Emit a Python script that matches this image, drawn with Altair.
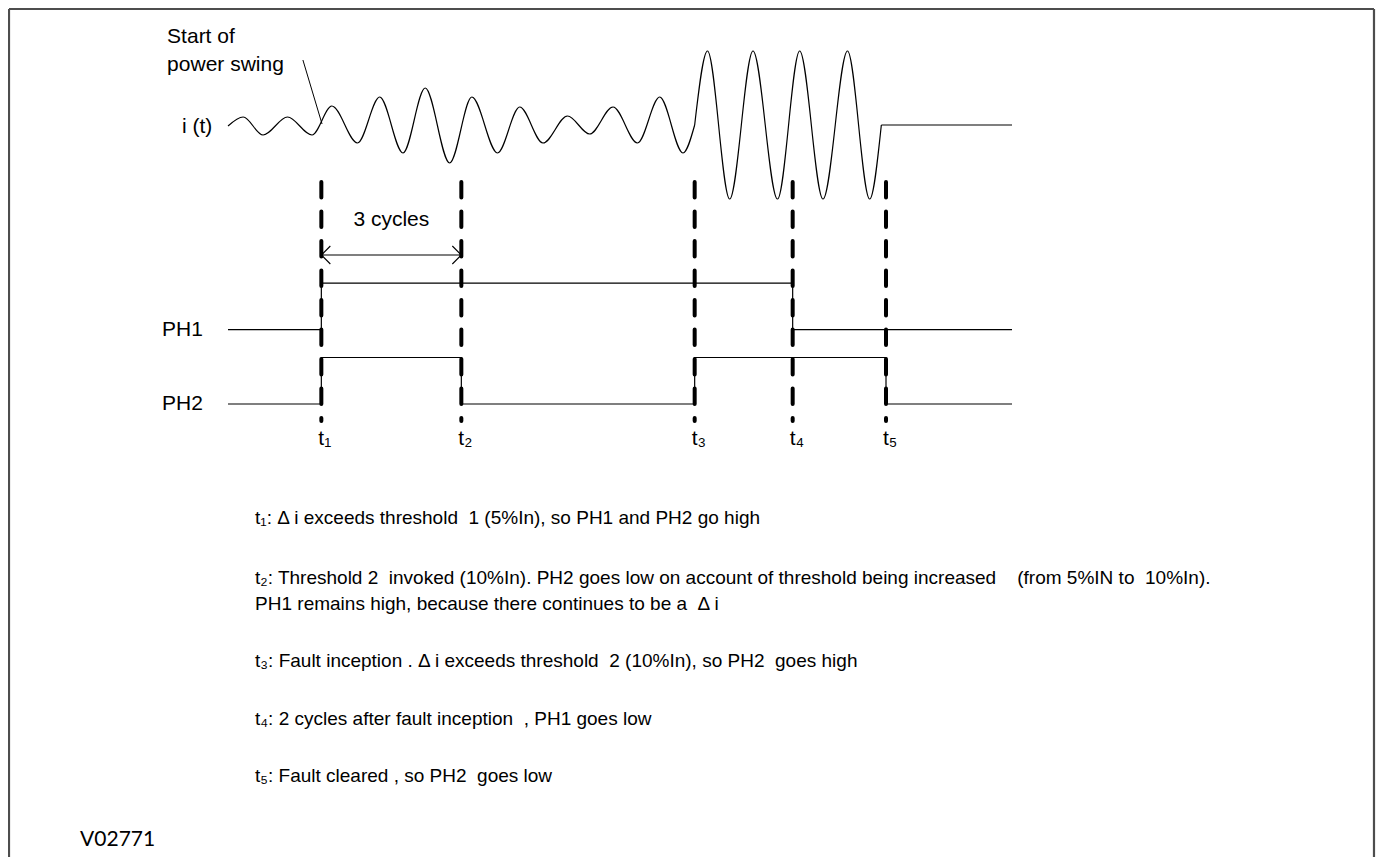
import altair as alt
import pandas as pd

# ---------------- data ----------------
# current waveform i(t): time in ms, current in p.u. (extrema)
swing_t = [0, 6.5, 15, 25.5, 36, 44.5, 55.5, 65, 75, 84.5, 95, 104.5, 115.5, 125, 135,
           145.5, 155, 165, 175.5, 185, 195, 200]
swing_i = [0, 0.9, -0.9, 0.9, -0.9, 2.0, -1.7, 2.9, -2.7, 3.8, -3.7, 2.9, -2.7, 1.9, -1.7,
           1.0, -0.8, 1.9, -1.7, 2.9, -2.7, 0.1]
fault_t = [200, 205.5, 215, 225, 235.5, 245, 255, 265.5, 275, 280]
fault_i = [0.1, 7.5, -7.3, 7.5, -7.3, 7.5, -7.3, 7.5, -7.3, 0.1]
clear_t = [280, 336]
clear_i = [0.1, 0.1]

# logic outputs (0 = low, 1 = high)
ph1_t = [0, 40, 242, 336]
ph1_v = [0, 1, 0, 0]
ph2_t = [0, 40, 100, 200, 282, 336]
ph2_v = [0, 1, 0, 1, 0, 0]

# event instants
event_labels = ["t\u2081", "t\u2082", "t\u2083", "t\u2084", "t\u2085"]
event_t = [40, 100, 200, 242, 282]

NB = "\u00a0"
notes = [
    f"t\u2081: \u0394 i exceeds threshold {NB}1 (5%In), so PH1 and PH2 go high",
    f"t\u2082: Threshold 2 {NB}invoked (10%In). PH2 goes low on account of threshold being increased {NB}{NB}{NB}(from 5%IN to {NB}10%In).",
    f"PH1 remains high, because there continues to be a {NB}\u0394 i",
    f"t\u2083: Fault inception . \u0394 i exceeds threshold {NB}2 (10%In), so PH2 {NB}goes high",
    f"t\u2084: 2 cycles after fault inception {NB}, PH1 goes low",
    f"t\u2085: Fault cleared , so PH2 {NB}goes low",
]

# ---------------- layout (diagram coordinates) ----------------
W, H = 1369, 849
X_DOMAIN = [-94.29, 492.43]          # ms
WAVE_DOMAIN = [-73.1, 11.8]          # p.u.
SIG_DOMAIN = [-9.742, 8.516]         # logic-level units
PH_OFFSET = {"PH1": 1.6, "PH2": 0.0}
FONT = "Liberation Sans, Arial, sans-serif"

xs = alt.Scale(domain=X_DOMAIN, nice=False, zero=False)
ws = alt.Scale(domain=WAVE_DOMAIN, nice=False, zero=False)
ss = alt.Scale(domain=SIG_DOMAIN, nice=False, zero=False)


def X(f):
    return alt.X(f"{f}:Q", scale=xs, axis=None)


def X2(f):
    return alt.X2(f"{f}:Q")


def YW(f):
    return alt.Y(f"{f}:Q", scale=ws, axis=None)


def YS(f):
    return alt.Y(f"{f}:Q", scale=ss, axis=None)


# ---- waveform ----
wave_df = pd.concat([
    pd.DataFrame({"t": swing_t, "i": swing_i, "seg": "swing"}),
    pd.DataFrame({"t": fault_t, "i": fault_i, "seg": "fault"}),
    pd.DataFrame({"t": clear_t, "i": clear_i, "seg": "cleared"}),
])
wave = alt.Chart(wave_df).mark_line(interpolate="monotone", color="black", strokeWidth=1.2).encode(
    x=X("t"), y=YW("i"), detail="seg:N", order="t:Q")

pointer_df = pd.DataFrame({"t": [32.1, 40.3], "i": [6.6, 0.2]})
pointer = alt.Chart(pointer_df).mark_line(color="black", strokeWidth=1).encode(x=X("t"), y=YW("i"))

wave_text_df = pd.DataFrame({
    "t": [-26.1, -26.1, -19.7],
    "i": [8.3, 5.5, -0.7],
    "label": ["Start of", "power swing", "i (t)"],
})
wave_text = alt.Chart(wave_text_df).mark_text(
    align="left", baseline="alphabetic", font=FONT, fontSize=21, color="black"
).encode(x=X("t"), y=YW("i"), text="label:N")

# ---- logic traces ----
ph_df = pd.concat([
    pd.DataFrame({"t": ph1_t, "v": ph1_v, "trace": "PH1"}),
    pd.DataFrame({"t": ph2_t, "v": ph2_v, "trace": "PH2"}),
])
traces = alt.Chart(ph_df).transform_calculate(
    lvl=f"datum.v + (datum.trace == 'PH1' ? {PH_OFFSET['PH1']} : {PH_OFFSET['PH2']})"
).mark_line(interpolate="step-after", color="black", strokeWidth=1.2).encode(
    x=X("t"), y=YS("lvl"), detail="trace:N", order="t:Q")

ph_lab_df = pd.DataFrame({"t": [-28.3, -28.3], "lvl": [PH_OFFSET["PH1"], PH_OFFSET["PH2"]],
                          "label": ["PH1", "PH2"]})
ph_labels = alt.Chart(ph_lab_df).mark_text(
    align="left", baseline="middle", font=FONT, fontSize=21, color="black"
).encode(x=X("t"), y=YS("lvl"), text="label:N")

# ---- event markers ----
ev_df = pd.DataFrame({"t": event_t, "label": event_labels, "top": 4.774, "bottom": -0.366,
                      "lab": -0.88})
markers = alt.Chart(ev_df).mark_rule(
    color="black", strokeWidth=4, strokeDash=[15.5, 14], strokeCap="round"
).encode(x=X("t"), y=YS("top"), y2=alt.Y2("bottom:Q"))

ev_labels = alt.Chart(ev_df).mark_text(
    align="left", baseline="alphabetic", font=FONT, fontSize=21, color="black", dx=-3
).encode(x=X("t"), y=YS("lab"), text="label:N")

# ---- 3 cycles arrow ----
arrow_df = pd.DataFrame({"t0": [event_t[0]], "t1": [event_t[1]], "lvl": [3.204],
                         "mid": [(event_t[0] + event_t[1]) / 2], "txt": [3.83],
                         "label": ["3 cycles"]})
arrow_line = alt.Chart(arrow_df).mark_rule(color="black", strokeWidth=1.2).encode(
    x=X("t0"), x2=X2("t1"), y=YS("lvl"))
head_l = alt.Chart(arrow_df).mark_point(
    shape="M1,-1L0,0L1,1", filled=False, size=324, stroke="black", strokeWidth=1.1, opacity=1
).encode(x=X("t0"), y=YS("lvl"))
head_r = alt.Chart(arrow_df).mark_point(
    shape="M-1,-1L0,0L-1,1", filled=False, size=324, stroke="black", strokeWidth=1.1, opacity=1
).encode(x=X("t1"), y=YS("lvl"))
arrow_text = alt.Chart(arrow_df).mark_text(
    align="center", baseline="alphabetic", font=FONT, fontSize=21, color="black"
).encode(x=X("mid"), y=YS("txt"), text="label:N")

# ---- notes ----
notes_df = pd.DataFrame({
    "t": [11.6] * len(notes),
    "lvl": [-2.45, -3.74, -4.30, -5.53, -6.77, -8.0],
    "label": notes,
})
notes_text = alt.Chart(notes_df).mark_text(
    align="left", baseline="middle", font=FONT, fontSize=19, color="black"
).encode(x=X("t"), y=YS("lvl"), text="label:N")

code_df = pd.DataFrame({"t": [-63.4], "lvl": [-9.38], "label": ["V02771"]})
code_text = alt.Chart(code_df).mark_text(
    align="left", baseline="middle", font="Lato, Open Sans, sans-serif", fontSize=21, color="black"
).encode(x=X("t"), y=YS("lvl"), text="label:N")

# ---- frame ----
frame_df = pd.DataFrame({
    "x0": [-93.86, -93.86, 491.14],
    "x1": [491.14, -93.86, 491.14],
    "y0": [8.495, 8.495, 8.495],
    "y1": [8.495, -9.742, -9.742],
})
frame = alt.Chart(frame_df).mark_rule(color="#4d4d4d", strokeWidth=2.2).encode(
    x=X("x0"), x2=X2("x1"), y=YS("y0"), y2=alt.Y2("y1:Q"))

wave_group = alt.layer(wave, pointer, wave_text)
sig_group = alt.layer(frame, traces, markers, arrow_line, head_l, head_r, arrow_text,
                      ph_labels, ev_labels, notes_text, code_text)

chart = alt.layer(sig_group, wave_group).resolve_scale(y="independent").properties(
    width=W, height=H, padding=0,
    autosize=alt.AutoSizeParams(type="none"),
    background="white",
).configure_view(stroke="transparent")

chart.save("out.html", embed_options={"renderer": "svg", "actions": False})
